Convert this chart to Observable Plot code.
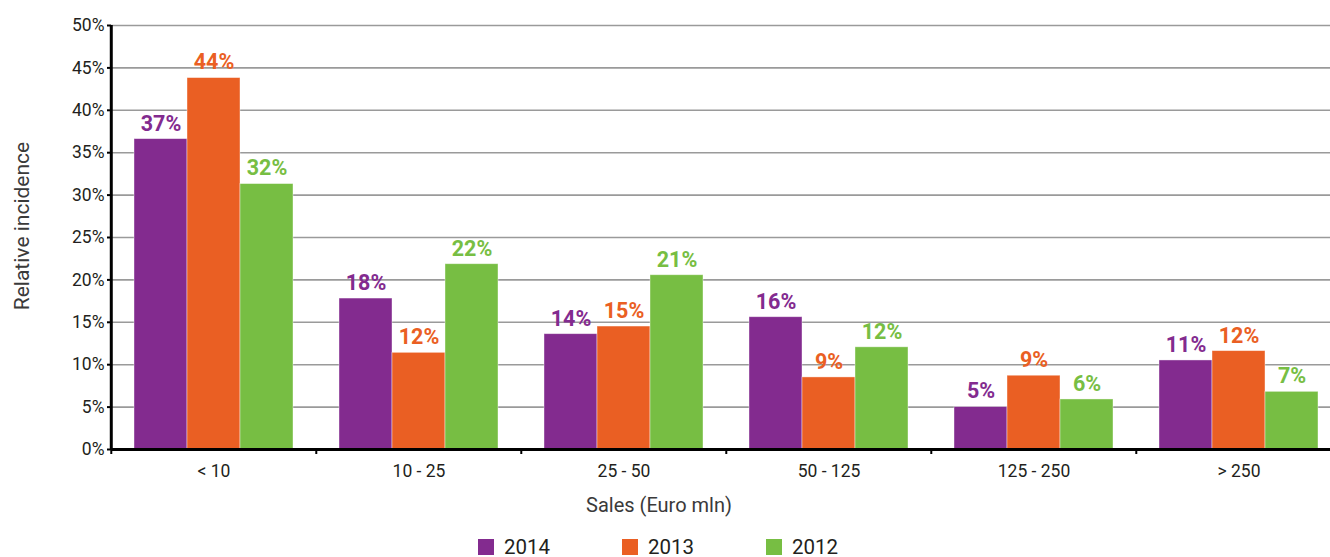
<!DOCTYPE html>
<html>
<head>
<meta charset="utf-8">
<script src="https://cdn.jsdelivr.net/npm/d3@7"></script>
<script src="https://cdn.jsdelivr.net/npm/@observablehq/plot@0.6"></script>
<style>
  html, body { margin: 0; padding: 0; background: white; }
  body { position: relative; width: 1330px; height: 557px; overflow: hidden; font-family: Roboto, "Liberation Sans", sans-serif; color: #231f20; }
  #chart { position: absolute; left: 0; top: 0; }
  #ylabel { position: absolute; left: 22px; top: 226px; transform: translate(-50%, -50%) rotate(-90deg); white-space: nowrap; font-size: 21px; line-height: 24px; color: #3a3a3a; }
  #xlabel { position: absolute; left: 559px; width: 200px; top: 493px; text-align: center; font-size: 20px; line-height: 24px; color: #3a3a3a; white-space: nowrap; }
  #legend { position: absolute; left: 478px; top: 538px; display: flex; }
  .item { display: flex; align-items: center; width: 144px; height: 18px; font-size: 20.5px; line-height: 18px; color: #231f20; }
  .sw { width: 16px; height: 16px; margin-right: 10px; }
</style>
</head>
<body>
<div id="chart"></div>
<div id="ylabel"></div>
<div id="xlabel"></div>
<div id="legend"></div>
<script>
// ---- data ----
const categories = ["< 10", "10 - 25", "25 - 50", "50 - 125", "125 - 250", "> 250"];
const years = ["2014", "2013", "2012"];
const colors = ["#832b8f", "#ea5f23", "#77be43"];
const values2014 = [36.6, 17.8, 13.6, 15.6, 5.0, 10.5];
const values2013 = [43.8, 11.4, 14.5, 8.5, 8.7, 11.6];
const values2012 = [31.3, 21.85, 20.55, 12.05, 5.9, 6.8];
const labels2014 = ["37%", "18%", "14%", "16%", "5%", "11%"];
const labels2013 = ["44%", "12%", "15%", "9%", "9%", "12%"];
const labels2012 = ["32%", "22%", "21%", "12%", "6%", "7%"];
const yTicks = [0, 5, 10, 15, 20, 25, 30, 35, 40, 45, 50];
const yTickLabels = ["0%", "5%", "10%", "15%", "20%", "25%", "30%", "35%", "40%", "45%", "50%"];
const yLabel = "Relative incidence";
const xLabel = "Sales (Euro mln)";

// ---- table ----
const seriesValues = [values2014, values2013, values2012];
const seriesLabels = [labels2014, labels2013, labels2012];
const rows = [];
categories.forEach((c, i) => {
  years.forEach((y, j) => {
    rows.push({cat: c, year: y, value: seriesValues[j][i], label: seriesLabels[j][i]});
  });
});

// ---- layout ----
const W = 1330, H = 490;
const mLeft = 110, mRight = -12.6, mTop = 25, mBottom = 41;
const step = (W - mLeft - mRight) / categories.length;

const chart = Plot.plot({
  width: W,
  height: H,
  marginLeft: mLeft,
  marginRight: mRight,
  marginTop: mTop,
  marginBottom: mBottom,
  style: {fontFamily: "Roboto, 'Liberation Sans', sans-serif", fontSize: "17.5px", color: "#231f20", background: "white", overflow: "hidden"},
  fx: {domain: categories, padding: 0, label: null},
  x: {domain: years, paddingInner: 0, paddingOuter: 0.413, axis: null},
  y: {domain: [0, 50], label: null},
  color: {domain: years, range: colors},
  marks: [
    Plot.gridY(yTicks, {stroke: "#9a9a9a", strokeOpacity: 1, strokeWidth: 1.6}),
    Plot.barY(rows, {fx: "cat", x: "year", y: "value", fill: "year", stroke: "white", strokeOpacity: 0.5, strokeWidth: 0.8}),
    Plot.text(rows, {fx: "cat", x: "year", y: "value", text: "label", fill: "year", dy: -15.5, fontWeight: "bold", fontSize: 21.5}),
    Plot.ruleY([0], {stroke: "black", strokeWidth: 3}),
    Plot.ruleX([0], {fx: () => categories[0], x: null, dx: -step / 2, stroke: "black", strokeWidth: 3}),
    Plot.axisY(yTicks, {anchor: "left", tickSize: 4, tickPadding: 3, strokeWidth: 2, stroke: "black", fill: "#231f20", tickFormat: (d) => yTickLabels[yTicks.indexOf(d)], label: null, fontSize: 17.5}),
    Plot.axisFx({anchor: "bottom", tickSize: 0, tickPadding: 15, label: null, fontSize: 17.5, fill: "#231f20"}),
    Plot.axisFx({anchor: "bottom", tickSize: 5, tickFormat: () => "", label: null, dx: -step / 2, strokeWidth: 2, stroke: "black"})
  ]
});
document.getElementById("chart").appendChild(chart);

document.getElementById("ylabel").textContent = yLabel;
document.getElementById("xlabel").textContent = xLabel;
const legend = document.getElementById("legend");
years.forEach((y, j) => {
  const item = document.createElement("div");
  item.className = "item";
  const sw = document.createElement("div");
  sw.className = "sw";
  sw.style.background = colors[j];
  const t = document.createElement("span");
  t.textContent = y;
  item.appendChild(sw);
  item.appendChild(t);
  legend.appendChild(item);
});
</script>
</body>
</html>
